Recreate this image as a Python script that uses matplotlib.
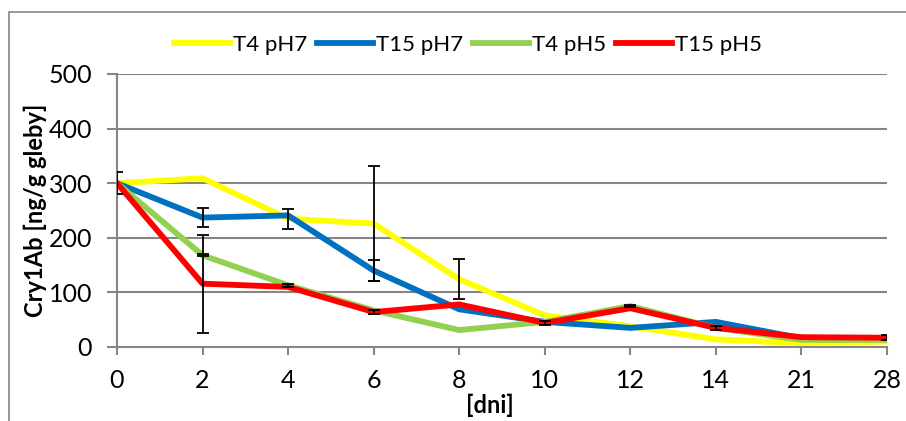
import matplotlib
matplotlib.use("Agg")
import matplotlib.pyplot as plt
from matplotlib.patches import Rectangle
import numpy as np

plt.rcParams['font.family'] = ['Lato', 'DejaVu Sans']

days = ["0", "2", "4", "6", "8", "10", "12", "14", "21", "28"]
series_names = ["T4 pH7", "T15 pH7", "T4 pH5", "T15 pH5"]
t4_ph7 = [300, 309, 235, 226, 124, 58, 38, 14, 7, 10]
t15_ph7 = [300, 237, 241, 140, 69, 46, 35, 46, 16, 16]
t4_ph5 = [300, 168, 113, 67, 31, 46, 75, 35, 13, 13]
t15_ph5 = [300, 116, 110, 64, 78, 44, 71, 35, 18, 17]
err_t4_ph7 = [20, 0, 18, 106, 37, 0, 0, 0, 0, 0]
err_t15_ph7 = [0, 17, 0, 20, 0, 0, 0, 0, 0, 0]
err_t4_ph5 = [0, 2, 3, 0, 0, 0, 2, 0, 0, 0]
err_t15_ph5 = [0, 90, 0, 3, 0, 3, 0, 3, 0, 5]
colors = ["#FFFF00", "#0070C0", "#92D050", "#FF0000"]

values = [t4_ph7, t15_ph7, t4_ph5, t15_ph5]
errors = [err_t4_ph7, err_t15_ph7, err_t4_ph5, err_t15_ph5]

fig = plt.figure(figsize=(9.06, 4.21), dpi=100)
ax = fig.add_axes([117/906, 1-347/421, 770/906, 273/421])

x = np.arange(len(days))
grid_c = "#868686"
for yv in [100, 200, 300, 400, 500]:
    ax.axhline(yv, color=grid_c, lw=1.5, zorder=1)

handles = []
for vals, c, name in zip(values, colors, series_names):
    h, = ax.plot(x, vals, color=c, lw=4.2, solid_joinstyle='round', zorder=3, label=name)
    handles.append(h)

cap = 0.07
for vals, errs in zip(values, errors):
    e = np.array(errs, dtype=float)
    v = np.array(vals, dtype=float)
    m = e > 0
    xs, lo, hi = x[m], v[m] - e[m], v[m] + e[m]
    ax.vlines(xs, lo, hi, color='black', lw=1.3, zorder=4)
    ax.hlines(lo, xs - cap, xs + cap, color='black', lw=1.3, zorder=4)
    ax.hlines(hi, xs - cap, xs + cap, color='black', lw=1.3, zorder=4)

ax.set_xlim(0, 9)
ax.set_ylim(0, 500)
ax.set_xticks(x)
ax.set_xticklabels(days)
ax.set_yticks([0, 100, 200, 300, 400, 500])
for s in ['top', 'right']:
    ax.spines[s].set_visible(False)
for s in ['left', 'bottom']:
    ax.spines[s].set_color(grid_c)
    ax.spines[s].set_linewidth(1.5)
    ax.spines[s].set_zorder(2)
ax.tick_params(axis='both', colors=grid_c, labelcolor='black', labelsize=18, width=1.5)
ax.tick_params(axis='y', length=7, pad=11)
ax.tick_params(axis='x', length=6, pad=10)

ax.set_ylabel("Cry1Ab [ng/g gleby]", fontsize=17, fontweight='bold', labelpad=1)
ax.set_xlabel("[dni]", fontsize=17, fontweight='bold', labelpad=2)
ax.xaxis.set_label_coords(0.484, -0.17)

fig.legend(handles=handles, loc='center', bbox_to_anchor=(468/906, 1-45/421), ncol=4,
           frameon=False, fontsize=16, handlelength=2.5, handletextpad=0.15,
           columnspacing=0.45, borderaxespad=0)

fig.patches.append(Rectangle((8.5/906, -0.1), 1.2, 1.1 - 11.5/421, transform=fig.transFigure,
                             fill=False, edgecolor=grid_c, lw=1.2))

fig.savefig("out.png", dpi=100)
